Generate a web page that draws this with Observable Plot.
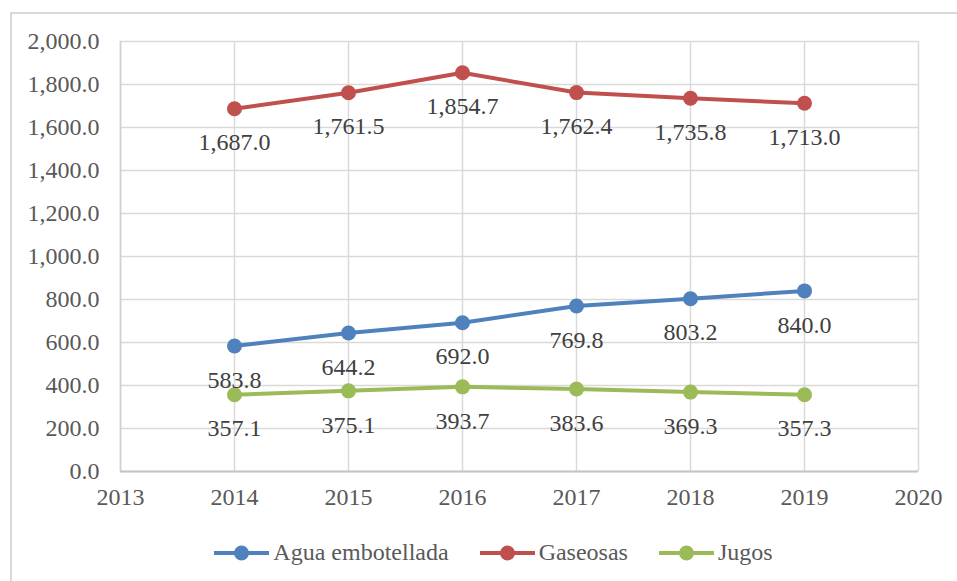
<!DOCTYPE html>
<html>
<head>
<meta charset="utf-8">
<script src="https://cdn.jsdelivr.net/npm/d3@7"></script>
<script src="https://cdn.jsdelivr.net/npm/@observablehq/plot@0.6"></script>
</head>
<body style="margin:0;padding:0;background:#fff;font-family:'Liberation Serif';">
<div id="wrap" style="position:relative;width:957px;height:581px;overflow:hidden;">
  <div id="frame" style="position:absolute;left:10px;top:12px;width:1000px;height:700px;border-left:2px solid #d9d9d9;border-top:2px solid #d9d9d9;"></div>
  <div id="chart" style="position:absolute;left:0;top:0;"></div>
  <div id="legend" style="position:absolute;left:0;top:522px;width:957px;height:61px;display:flex;justify-content:center;align-items:center;gap:31px;padding-left:30px;box-sizing:border-box;font-size:24px;color:#595959;"></div>
</div>
<script>
const years = [2014, 2015, 2016, 2017, 2018, 2019];
const agua = [583.8, 644.2, 692.0, 769.8, 803.2, 840.0];
const gaseosas = [1687.0, 1761.5, 1854.7, 1762.4, 1735.8, 1713.0];
const jugos = [357.1, 375.1, 393.7, 383.6, 369.3, 357.3];
const seriesNames = ["Agua embotellada", "Gaseosas", "Jugos"];
const seriesColors = ["#4F81BD", "#C0504D", "#9BBB59"];
const xTicks = [2013, 2014, 2015, 2016, 2017, 2018, 2019, 2020];
const yTicks = [0, 200, 400, 600, 800, 1000, 1200, 1400, 1600, 1800, 2000];

const allSeries = [agua, gaseosas, jugos];
const data = [];
allSeries.forEach((vals, si) => {
  vals.forEach((v, i) => data.push({series: seriesNames[si], year: years[i], value: v}));
});

const fmt = d3.format(",.1f");
const FONT = "Liberation Serif";

const chart = Plot.plot({
  width: 957,
  height: 520,
  marginLeft: 120,
  marginRight: 39,
  marginTop: 41,
  marginBottom: 49,
  style: { fontFamily: FONT, fontSize: "24px" },
  x: { domain: [2013, 2020], label: null },
  y: { domain: [0, 2000], label: null },
  color: { domain: seriesNames, range: seriesColors },
  marks: [
    Plot.gridY(yTicks, { stroke: "#d9d9d9", strokeOpacity: 1, strokeWidth: 1.5 }),
    Plot.gridX(xTicks, { stroke: "#d9d9d9", strokeOpacity: 1, strokeWidth: 1.5 }),
    Plot.ruleY([0], { stroke: "#c4c4c4", strokeWidth: 2 }),
    Plot.ruleX([2013], { stroke: "#d0d0d0", strokeWidth: 1.5 }),
    Plot.axisX({ ticks: xTicks, tickFormat: d => String(d), tickSize: 0, tickPadding: 16, fill: "#595959", fontSize: 24, fontFamily: FONT, label: null }),
    Plot.axisY({ ticks: yTicks, tickFormat: fmt, tickSize: 0, tickPadding: 21, fill: "#595959", fontSize: 24, fontFamily: FONT, label: null }),
    Plot.line(data, { x: "year", y: "value", z: "series", stroke: "series", strokeWidth: 4 }),
    Plot.dot(data, { x: "year", y: "value", fill: "series", r: 7.5, stroke: null }),
    Plot.text(data, { x: "year", y: "value", text: d => fmt(d.value), dy: 34, fill: "#404040", fontSize: 24, fontFamily: FONT, textAnchor: "middle" })
  ]
});
chart.style.background = "transparent";
document.getElementById("chart").appendChild(chart);

const legend = document.getElementById("legend");
seriesNames.forEach((name, i) => {
  const item = document.createElement("div");
  item.style.cssText = "display:flex;align-items:center;gap:4px;";
  item.innerHTML = `<svg width="55" height="18"><line x1="0" y1="9" x2="55" y2="9" stroke="${seriesColors[i]}" stroke-width="4"/><circle cx="27.5" cy="9" r="7.5" fill="${seriesColors[i]}"/></svg><span>${name}</span>`;
  legend.appendChild(item);
});
</script>
</body>
</html>
